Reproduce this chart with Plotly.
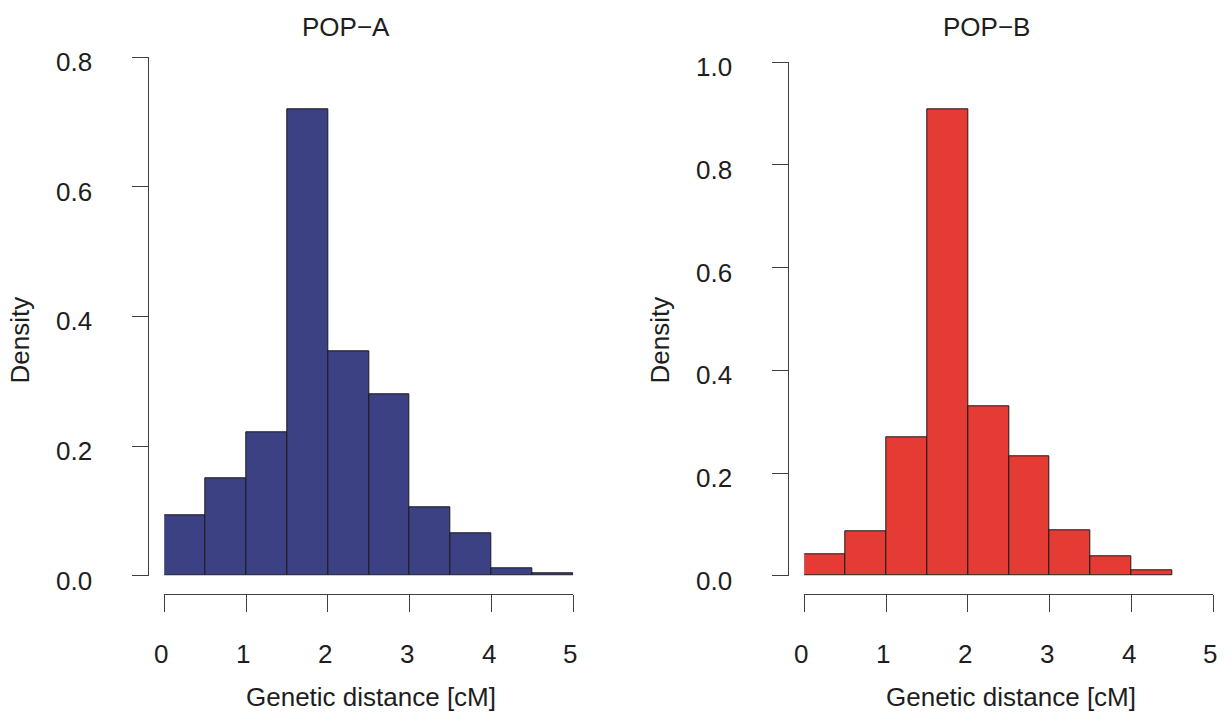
import plotly.graph_objects as go

# ---- data ----
bin_edges_a = [0.0, 0.5, 1.0, 1.5, 2.0, 2.5, 3.0, 3.5, 4.0, 4.5, 5.0]
density_a = [0.093, 0.150, 0.222, 0.720, 0.347, 0.280, 0.105, 0.065, 0.012, 0.003]

bin_edges_b = [0.0, 0.5, 1.0, 1.5, 2.0, 2.5, 3.0, 3.5, 4.0, 4.5]
density_b = [0.042, 0.086, 0.269, 0.908, 0.330, 0.232, 0.088, 0.037, 0.011]

x_ticks = [0, 1, 2, 3, 4, 5]
y_ticks_a = [0.0, 0.2, 0.4, 0.6, 0.8]
y_ticks_b = [0.0, 0.2, 0.4, 0.6, 0.8, 1.0]

titles = ["POP\u2212A", "POP\u2212B"]
x_title = "Genetic distance [cM]"
y_title = "Density"

color_a = "#3C4184"
color_b = "#E43B34"

W, H = 1227, 720
FONT = "Liberation Sans, Arial, Helvetica, sans-serif"
TXT = "#1e1e1e"
AX = "#404040"
FS = 26


def px_x(p):
    return p / W


def px_y(p):
    return (H - p) / H


def centers(edges):
    return [(edges[i] + edges[i + 1]) / 2 for i in range(len(edges) - 1)]


def widths(edges):
    return [edges[i + 1] - edges[i] for i in range(len(edges) - 1)]


fig = go.Figure()
fig.add_trace(go.Bar(x=centers(bin_edges_a), y=density_a, width=widths(bin_edges_a),
                     marker=dict(color=color_a, line=dict(color="#1a1a1a", width=1)),
                     xaxis="x", yaxis="y", showlegend=False, hoverinfo="x+y"))
fig.add_trace(go.Bar(x=centers(bin_edges_b), y=density_b, width=widths(bin_edges_b),
                     marker=dict(color=color_b, line=dict(color="#1a1a1a", width=1)),
                     xaxis="x2", yaxis="y2", showlegend=False, hoverinfo="x+y"))

xcommon = dict(range=[0, 5], tickvals=x_ticks,
               showline=True, linecolor=AX, linewidth=1.2, ticks="outside", ticklen=17,
               tickwidth=1.2, tickcolor=AX, showgrid=False, zeroline=False,
               showticklabels=False, anchor="free", position=px_y(594.3), fixedrange=True)
ycommon = dict(showline=True, linecolor=AX, linewidth=1.2, ticks="outside", ticklen=16,
               tickwidth=1.2, tickcolor=AX, showgrid=False, zeroline=False,
               showticklabels=False, anchor="free", fixedrange=True)

fig.update_layout(
    width=W, height=H, margin=dict(l=0, r=0, t=0, b=0),
    paper_bgcolor="white", plot_bgcolor="white", bargap=0,
    xaxis=dict(domain=[px_x(164.3), px_x(573.3)], **xcommon),
    xaxis2=dict(domain=[px_x(804.3), px_x(1213.3)], **xcommon),
    yaxis=dict(domain=[px_y(575.7), px_y(57.3)], range=[0, 0.8], tickvals=y_ticks_a,
               position=px_x(148.3), **ycommon),
    yaxis2=dict(domain=[px_y(575.7), px_y(62.3)], range=[0, 1.0], tickvals=y_ticks_b,
                position=px_x(788.3), **ycommon),
)

ann = []
# y tick labels
for vals, yref, xr in [(y_ticks_a, "y", 93.5), (y_ticks_b, "y2", 733.5)]:
    for v in vals:
        ann.append(dict(text=f"{v:.1f}", xref="paper", yref=yref, x=px_x(xr), y=v,
                        xanchor="right", yanchor="middle", showarrow=False, yshift=-5,
                        font=dict(family=FONT, size=FS, color=TXT)))
# x tick labels
for xref in ["x", "x2"]:
    for t in x_ticks:
        ann.append(dict(text=str(t), xref=xref, yref="paper", x=t, y=px_y(653.7),
                        xanchor="center", yanchor="middle", showarrow=False, xshift=-3,
                        font=dict(family=FONT, size=FS, color=TXT)))
# panel titles
for t, cx in zip(titles, [346.2, 986.2]):
    ann.append(dict(text=t, xref="paper", yref="paper", x=px_x(cx), y=px_y(27),
                    xanchor="center", yanchor="middle", showarrow=False,
                    font=dict(family=FONT, size=FS, color=TXT)))
# x titles
for cx in [371.2, 1011.2]:
    ann.append(dict(text=x_title, xref="paper", yref="paper", x=px_x(cx), y=px_y(696.5),
                    xanchor="center", yanchor="middle", showarrow=False,
                    font=dict(family=FONT, size=FS, color=TXT)))
# y titles
for cx in [19.5, 659.5]:
    ann.append(dict(text=y_title, xref="paper", yref="paper", x=px_x(cx), y=px_y(340),
                    xanchor="center", yanchor="middle", showarrow=False, textangle=-90,
                    font=dict(family=FONT, size=FS, color=TXT)))
fig.update_layout(annotations=ann)

fig.write_html("out.html", config={"displayModeBar": False},
               post_script="document.body.style.margin='0';document.body.style.padding='0';"
                           "document.body.style.overflow='hidden';")
